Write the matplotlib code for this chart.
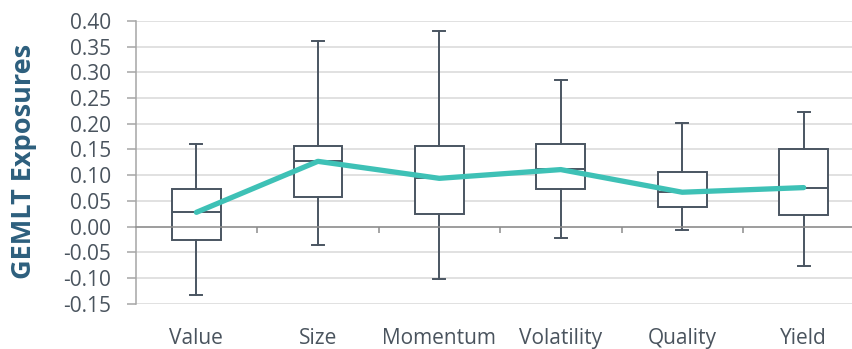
import matplotlib.pyplot as plt
import numpy as np

# data
factors = ['Value', 'Size', 'Momentum', 'Volatility', 'Quality', 'Yield']
whis_lo = [-0.133, -0.035, -0.102, -0.021, -0.007, -0.077]
q1 = [-0.025, 0.058, 0.025, 0.074, 0.038, 0.022]
med = [0.029, 0.127, 0.095, 0.112, 0.067, 0.076]
q3 = [0.074, 0.157, 0.157, 0.161, 0.106, 0.150]
whis_hi = [0.161, 0.361, 0.381, 0.284, 0.201, 0.223]
current = [0.028, 0.127, 0.094, 0.111, 0.067, 0.076]
yticks = np.round(np.arange(-0.15, 0.401, 0.05), 2)

txtcol = '#4a545e'
boxcol = '#4a5561'
plt.rcParams['font.family'] = ['Open Sans', 'DejaVu Sans']

fig = plt.figure(figsize=(8.53, 3.49), dpi=100)
ax = fig.add_axes([135.7/853, 0.129, 728.7/853, 0.8115])

stats = []
for i in range(len(factors)):
    stats.append({'med': med[i], 'q1': q1[i], 'q3': q3[i],
                  'whislo': whis_lo[i], 'whishi': whis_hi[i], 'fliers': []})
ax.bxp(stats, positions=range(len(factors)), widths=0.4, capwidths=0.1,
       showfliers=False, patch_artist=True,
       boxprops={'facecolor': 'white', 'edgecolor': boxcol, 'lw': 1.4},
       medianprops={'color': boxcol, 'lw': 1.4},
       whiskerprops={'color': boxcol, 'lw': 1.4},
       capprops={'color': boxcol, 'lw': 1.4})

ax.plot(range(len(factors)), current, color='#3ec1b6', lw=3.8,
        solid_capstyle='round', solid_joinstyle='round', zorder=4)

ax.set_xlim(-0.5, len(factors)-0.5)
ax.set_ylim(yticks[0], yticks[-1])
ax.set_yticks(yticks)
ax.set_yticklabels(['{0:.2f}'.format(v) for v in yticks])
ax.yaxis.grid(True, color='#d9d9d9', lw=1.1)
ax.set_axisbelow(True)
ax.tick_params(axis='y', direction='out', length=6.5, width=1.1, color='#a6a6a6',
               pad=11, labelsize=15, labelcolor=txtcol)
ax.set_xticks(range(len(factors)))
ax.set_xticklabels(factors)
ax.tick_params(axis='x', length=0, pad=17, labelsize=15, labelcolor=txtcol)
for s in ['top', 'right', 'bottom']:
    ax.spines[s].set_visible(False)
ax.spines['left'].set_color('#a6a6a6')
ax.spines['left'].set_linewidth(1.1)

# zero line with category separators
y0 = (0 - yticks[0]) / (yticks[-1] - yticks[0])
sec = ax.secondary_xaxis(y0)
sec.set_xticks(np.arange(0.5, len(factors)-0.5, 1.0))
sec.set_xticklabels([])
sec.tick_params(direction='out', length=4.5, width=1.1, color='#8c8c8c')
sec.spines['bottom'].set_color('#8c8c8c')
sec.spines['bottom'].set_linewidth(1.1)
sec.set_zorder(2.5)

fig.text(24/853, 1-161/349, 'GEMLT Exposures', rotation=90, ha='center', va='center',
         fontsize=19.5, fontweight='bold', color='#2d5f7d')

fig.savefig('out.png', dpi=100)
